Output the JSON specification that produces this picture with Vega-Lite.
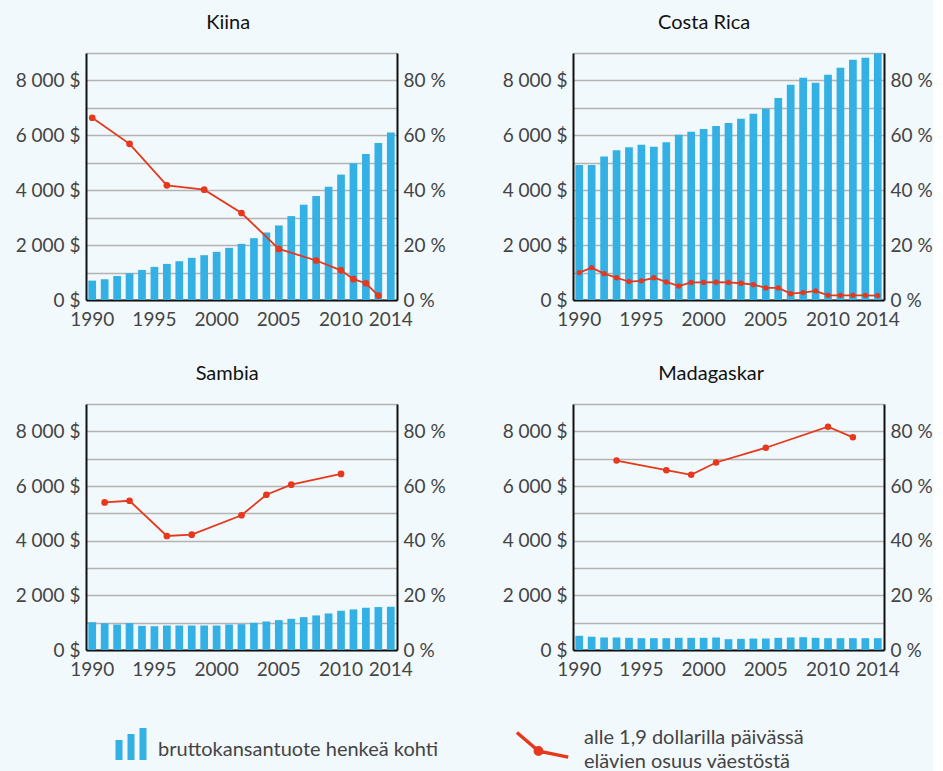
{
  "$schema": "https://vega.github.io/schema/vega-lite/v6.json",
  "background": "#f2f9fc",
  "padding": {"left": 15, "top": 13, "right": 0, "bottom": 0},
  "datasets": {
    "gdp": [
      {"country": "Kiina", "year": 1990, "gdp": 706}, {"country": "Kiina", "year": 1991, "gdp": 755}, {"country": "Kiina", "year": 1992, "gdp": 877}, {"country": "Kiina", "year": 1993, "gdp": 974}, {"country": "Kiina", "year": 1994, "gdp": 1096}, {"country": "Kiina", "year": 1995, "gdp": 1206}, {"country": "Kiina", "year": 1996, "gdp": 1315}, {"country": "Kiina", "year": 1997, "gdp": 1413}, {"country": "Kiina", "year": 1998, "gdp": 1535}, {"country": "Kiina", "year": 1999, "gdp": 1632}, {"country": "Kiina", "year": 2000, "gdp": 1754}, {"country": "Kiina", "year": 2001, "gdp": 1900}, {"country": "Kiina", "year": 2002, "gdp": 2046}, {"country": "Kiina", "year": 2003, "gdp": 2253}, {"country": "Kiina", "year": 2004, "gdp": 2460}, {"country": "Kiina", "year": 2005, "gdp": 2716}, {"country": "Kiina", "year": 2006, "gdp": 3057}, {"country": "Kiina", "year": 2007, "gdp": 3471}, {"country": "Kiina", "year": 2008, "gdp": 3788}, {"country": "Kiina", "year": 2009, "gdp": 4129}, {"country": "Kiina", "year": 2010, "gdp": 4568}, {"country": "Kiina", "year": 2011, "gdp": 4982}, {"country": "Kiina", "year": 2012, "gdp": 5323}, {"country": "Kiina", "year": 2013, "gdp": 5725}, {"country": "Kiina", "year": 2014, "gdp": 6102},
      {"country": "Costa Rica", "year": 1990, "gdp": 4921}, {"country": "Costa Rica", "year": 1991, "gdp": 4921}, {"country": "Costa Rica", "year": 1992, "gdp": 5226}, {"country": "Costa Rica", "year": 1993, "gdp": 5458}, {"country": "Costa Rica", "year": 1994, "gdp": 5568}, {"country": "Costa Rica", "year": 1995, "gdp": 5653}, {"country": "Costa Rica", "year": 1996, "gdp": 5580}, {"country": "Costa Rica", "year": 1997, "gdp": 5751}, {"country": "Costa Rica", "year": 1998, "gdp": 6020}, {"country": "Costa Rica", "year": 1999, "gdp": 6130}, {"country": "Costa Rica", "year": 2000, "gdp": 6227}, {"country": "Costa Rica", "year": 2001, "gdp": 6337}, {"country": "Costa Rica", "year": 2002, "gdp": 6447}, {"country": "Costa Rica", "year": 2003, "gdp": 6606}, {"country": "Costa Rica", "year": 2004, "gdp": 6789}, {"country": "Costa Rica", "year": 2005, "gdp": 6972}, {"country": "Costa Rica", "year": 2006, "gdp": 7363}, {"country": "Costa Rica", "year": 2007, "gdp": 7839}, {"country": "Costa Rica", "year": 2008, "gdp": 8095}, {"country": "Costa Rica", "year": 2009, "gdp": 7912}, {"country": "Costa Rica", "year": 2010, "gdp": 8205}, {"country": "Costa Rica", "year": 2011, "gdp": 8461}, {"country": "Costa Rica", "year": 2012, "gdp": 8754}, {"country": "Costa Rica", "year": 2013, "gdp": 8828}, {"country": "Costa Rica", "year": 2014, "gdp": 8990},
      {"country": "Sambia", "year": 1990, "gdp": 1018}, {"country": "Sambia", "year": 1991, "gdp": 982}, {"country": "Sambia", "year": 1992, "gdp": 933}, {"country": "Sambia", "year": 1993, "gdp": 982}, {"country": "Sambia", "year": 1994, "gdp": 883}, {"country": "Sambia", "year": 1995, "gdp": 871}, {"country": "Sambia", "year": 1996, "gdp": 896}, {"country": "Sambia", "year": 1997, "gdp": 896}, {"country": "Sambia", "year": 1998, "gdp": 896}, {"country": "Sambia", "year": 1999, "gdp": 896}, {"country": "Sambia", "year": 2000, "gdp": 896}, {"country": "Sambia", "year": 2001, "gdp": 933}, {"country": "Sambia", "year": 2002, "gdp": 945}, {"country": "Sambia", "year": 2003, "gdp": 994}, {"country": "Sambia", "year": 2004, "gdp": 1043}, {"country": "Sambia", "year": 2005, "gdp": 1092}, {"country": "Sambia", "year": 2006, "gdp": 1141}, {"country": "Sambia", "year": 2007, "gdp": 1202}, {"country": "Sambia", "year": 2008, "gdp": 1264}, {"country": "Sambia", "year": 2009, "gdp": 1337}, {"country": "Sambia", "year": 2010, "gdp": 1436}, {"country": "Sambia", "year": 2011, "gdp": 1485}, {"country": "Sambia", "year": 2012, "gdp": 1546}, {"country": "Sambia", "year": 2013, "gdp": 1571}, {"country": "Sambia", "year": 2014, "gdp": 1583},
      {"country": "Madagaskar", "year": 1990, "gdp": 519}, {"country": "Madagaskar", "year": 1991, "gdp": 482}, {"country": "Madagaskar", "year": 1992, "gdp": 457}, {"country": "Madagaskar", "year": 1993, "gdp": 457}, {"country": "Madagaskar", "year": 1994, "gdp": 445}, {"country": "Madagaskar", "year": 1995, "gdp": 432}, {"country": "Madagaskar", "year": 1996, "gdp": 432}, {"country": "Madagaskar", "year": 1997, "gdp": 432}, {"country": "Madagaskar", "year": 1998, "gdp": 445}, {"country": "Madagaskar", "year": 1999, "gdp": 445}, {"country": "Madagaskar", "year": 2000, "gdp": 445}, {"country": "Madagaskar", "year": 2001, "gdp": 457}, {"country": "Madagaskar", "year": 2002, "gdp": 395}, {"country": "Madagaskar", "year": 2003, "gdp": 408}, {"country": "Madagaskar", "year": 2004, "gdp": 420}, {"country": "Madagaskar", "year": 2005, "gdp": 420}, {"country": "Madagaskar", "year": 2006, "gdp": 445}, {"country": "Madagaskar", "year": 2007, "gdp": 457}, {"country": "Madagaskar", "year": 2008, "gdp": 469}, {"country": "Madagaskar", "year": 2009, "gdp": 445}, {"country": "Madagaskar", "year": 2010, "gdp": 432}, {"country": "Madagaskar", "year": 2011, "gdp": 432}, {"country": "Madagaskar", "year": 2012, "gdp": 432}, {"country": "Madagaskar", "year": 2013, "gdp": 432}, {"country": "Madagaskar", "year": 2014, "gdp": 432}
    ],
    "pov": [
      {"country": "Kiina", "year": 1990, "pov": 66.4}, {"country": "Kiina", "year": 1993, "pov": 56.9}, {"country": "Kiina", "year": 1996, "pov": 41.8}, {"country": "Kiina", "year": 1999, "pov": 40.2}, {"country": "Kiina", "year": 2002, "pov": 31.7}, {"country": "Kiina", "year": 2005, "pov": 18.6}, {"country": "Kiina", "year": 2008, "pov": 14.4}, {"country": "Kiina", "year": 2010, "pov": 10.8}, {"country": "Kiina", "year": 2011, "pov": 7.6}, {"country": "Kiina", "year": 2012, "pov": 6.1}, {"country": "Kiina", "year": 2013, "pov": 1.6},
      {"country": "Costa Rica", "year": 1990, "pov": 10.0}, {"country": "Costa Rica", "year": 1991, "pov": 11.8}, {"country": "Costa Rica", "year": 1992, "pov": 9.6}, {"country": "Costa Rica", "year": 1993, "pov": 8.1}, {"country": "Costa Rica", "year": 1994, "pov": 6.7}, {"country": "Costa Rica", "year": 1995, "pov": 7.0}, {"country": "Costa Rica", "year": 1996, "pov": 8.1}, {"country": "Costa Rica", "year": 1997, "pov": 6.6}, {"country": "Costa Rica", "year": 1998, "pov": 5.1}, {"country": "Costa Rica", "year": 1999, "pov": 6.4}, {"country": "Costa Rica", "year": 2000, "pov": 6.4}, {"country": "Costa Rica", "year": 2001, "pov": 6.5}, {"country": "Costa Rica", "year": 2002, "pov": 6.4}, {"country": "Costa Rica", "year": 2003, "pov": 6.1}, {"country": "Costa Rica", "year": 2004, "pov": 5.6}, {"country": "Costa Rica", "year": 2005, "pov": 4.4}, {"country": "Costa Rica", "year": 2006, "pov": 4.4}, {"country": "Costa Rica", "year": 2007, "pov": 2.3}, {"country": "Costa Rica", "year": 2008, "pov": 2.7}, {"country": "Costa Rica", "year": 2009, "pov": 3.3}, {"country": "Costa Rica", "year": 2010, "pov": 1.7}, {"country": "Costa Rica", "year": 2011, "pov": 1.7}, {"country": "Costa Rica", "year": 2012, "pov": 1.7}, {"country": "Costa Rica", "year": 2013, "pov": 1.7}, {"country": "Costa Rica", "year": 2014, "pov": 1.6},
      {"country": "Sambia", "year": 1991, "pov": 54.0}, {"country": "Sambia", "year": 1993, "pov": 54.6}, {"country": "Sambia", "year": 1996, "pov": 41.7}, {"country": "Sambia", "year": 1998, "pov": 42.2}, {"country": "Sambia", "year": 2002, "pov": 49.3}, {"country": "Sambia", "year": 2004, "pov": 56.8}, {"country": "Sambia", "year": 2006, "pov": 60.5}, {"country": "Sambia", "year": 2010, "pov": 64.4},
      {"country": "Madagaskar", "year": 1993, "pov": 69.3}, {"country": "Madagaskar", "year": 1997, "pov": 65.8}, {"country": "Madagaskar", "year": 1999, "pov": 64.1}, {"country": "Madagaskar", "year": 2001, "pov": 68.6}, {"country": "Madagaskar", "year": 2005, "pov": 74.0}, {"country": "Madagaskar", "year": 2010, "pov": 81.7}, {"country": "Madagaskar", "year": 2012, "pov": 77.8}
    ]
  },
  "columns": 2,
  "spacing": {"row": 35, "column": 56},
  "concat": [
    {
      "title": {"text": "Kiina", "dx": -2},
      "width": 311, "height": 247,
      "layer": [
        {"data": {"name": "gdp"}, "transform": [{"filter": "datum.country == 'Kiina'"}],
         "mark": {"type": "bar", "color": "#33b0e4"},
         "encoding": {
           "x": {"field": "year", "type": "ordinal", "title": null, "scale": {"domain": [1990,1991,1992,1993,1994,1995,1996,1997,1998,1999,2000,2001,2002,2003,2004,2005,2006,2007,2008,2009,2010,2011,2012,2013,2014], "paddingInner": 0.38, "paddingOuter": 0.19}, "axis": {"values": [1990,1995,2000,2005,2010,2014], "labelAngle": 0}},
           "y": {"field": "gdp", "type": "quantitative", "title": null, "scale": {"domain": [0, 9000], "nice": false}, "axis": {"values": [0,1000,2000,3000,4000,5000,6000,7000,8000,9000], "grid": true, "labelExpr": "datum.value % 2000 == 0 && datum.value < 9000 ? replace(format(datum.value, ','), ',', ' ') + ' $' : ''"}},
           "color": {"datum": "bkt", "scale": {"domain": ["bkt"], "range": ["#33b0e4"]}, "legend": {"orient": "none", "legendX": 34, "legendY": 686, "title": null, "padding": 0, "labelExpr": "'bruttokansantuote henkeä kohti'", "labelOffset": 16, "labelLimit": 500, "labelFontSize": 20, "labelColor": "#444", "labelFont": "Lato", "encode": {"labels": {"update": {"fontSize": {"value": 20}}}, "symbols": {"update": {"shape": {"value": "M-1.55,1H-0.85V-1H-1.55Z M-0.35,1H0.35V-1.6H-0.35Z M0.85,1H1.55V-2.2H0.85Z"}, "fill": {"value": "#33b0e4"}, "stroke": {"value": "transparent"}, "size": {"value": 400}, "opacity": {"value": 1}}}}}}
         }},
        {"data": {"name": "pov"}, "transform": [{"filter": "datum.country == 'Kiina'"}],
         "mark": {"type": "line", "color": "#e5381c", "strokeWidth": 1.8},
         "encoding": {
           "x": {"field": "year", "type": "ordinal"},
           "y": {"field": "pov", "type": "quantitative", "title": null, "scale": {"domain": [0, 90], "nice": false}, "axis": {"orient": "right", "values": [0,20,40,60,80], "grid": false, "labelExpr": "datum.value + ' %'"}},
           "stroke": {"datum": "pov", "scale": {"domain": ["pov"], "range": ["#e5381c"]}, "legend": {"orient": "none", "legendX": 460, "legendY": 674, "title": null, "padding": 0, "labelExpr": "['alle 1,9 dollarilla päivässä', 'elävien osuus väestöstä']", "labelOffset": 16, "labelLimit": 500, "labelFontSize": 20, "labelColor": "#444", "labelFont": "Lato", "encode": {"labels": {"update": {"lineHeight": {"value": 24}, "fontSize": {"value": 20}}}, "symbols": {"update": {"shape": {"value": "M-4.015,-0.424L-1.915,1.376L-1.785,1.224L-3.885,-0.576Z M-1.87,1.398L1.03,1.998L1.07,1.802L-1.83,1.202Z M-2.27,1.3A0.42,0.42 0 1,0 -1.43,1.3A0.42,0.42 0 1,0 -2.27,1.3Z"}, "fill": {"value": "#e5381c"}, "stroke": {"value": "transparent"}, "size": {"value": 400}, "opacity": {"value": 1}}}}}}
         }},
        {"data": {"name": "pov"}, "transform": [{"filter": "datum.country == 'Kiina'"}],
         "mark": {"type": "point", "filled": true, "size": 45, "color": "#e5381c", "opacity": 1},
         "encoding": {
           "x": {"field": "year", "type": "ordinal"},
           "y": {"field": "pov", "type": "quantitative", "scale": {"domain": [0, 90], "nice": false}, "axis": null}
         }}
      ],
      "resolve": {"scale": {"y": "independent"}}
    },
    {
      "title": {"text": "Costa Rica", "dx": -13},
      "width": 311, "height": 247,
      "layer": [
        {"data": {"name": "gdp"}, "transform": [{"filter": "datum.country == 'Costa Rica'"}],
         "mark": {"type": "bar", "color": "#33b0e4"},
         "encoding": {
           "x": {"field": "year", "type": "ordinal", "title": null, "scale": {"domain": [1990,1991,1992,1993,1994,1995,1996,1997,1998,1999,2000,2001,2002,2003,2004,2005,2006,2007,2008,2009,2010,2011,2012,2013,2014], "paddingInner": 0.38, "paddingOuter": 0.19}, "axis": {"values": [1990,1995,2000,2005,2010,2014], "labelAngle": 0}},
           "y": {"field": "gdp", "type": "quantitative", "title": null, "scale": {"domain": [0, 9000], "nice": false}, "axis": {"values": [0,1000,2000,3000,4000,5000,6000,7000,8000,9000], "grid": true, "labelExpr": "datum.value % 2000 == 0 && datum.value < 9000 ? replace(format(datum.value, ','), ',', ' ') + ' $' : ''"}}
         }},
        {"data": {"name": "pov"}, "transform": [{"filter": "datum.country == 'Costa Rica'"}],
         "mark": {"type": "line", "color": "#e5381c", "strokeWidth": 1.8},
         "encoding": {
           "x": {"field": "year", "type": "ordinal"},
           "y": {"field": "pov", "type": "quantitative", "title": null, "scale": {"domain": [0, 90], "nice": false}, "axis": {"orient": "right", "values": [0,20,40,60,80], "grid": false, "labelExpr": "datum.value + ' %'"}}
         }},
        {"data": {"name": "pov"}, "transform": [{"filter": "datum.country == 'Costa Rica'"}],
         "mark": {"type": "point", "filled": true, "size": 28, "color": "#e5381c", "opacity": 1},
         "encoding": {
           "x": {"field": "year", "type": "ordinal"},
           "y": {"field": "pov", "type": "quantitative", "scale": {"domain": [0, 90], "nice": false}, "axis": null}
         }}
      ],
      "resolve": {"scale": {"y": "independent"}}
    },
    {
      "title": {"text": "Sambia", "dx": -3},
      "width": 311, "height": 246,
      "layer": [
        {"data": {"name": "gdp"}, "transform": [{"filter": "datum.country == 'Sambia'"}],
         "mark": {"type": "bar", "color": "#33b0e4"},
         "encoding": {
           "x": {"field": "year", "type": "ordinal", "title": null, "scale": {"domain": [1990,1991,1992,1993,1994,1995,1996,1997,1998,1999,2000,2001,2002,2003,2004,2005,2006,2007,2008,2009,2010,2011,2012,2013,2014], "paddingInner": 0.38, "paddingOuter": 0.19}, "axis": {"values": [1990,1995,2000,2005,2010,2014], "labelAngle": 0}},
           "y": {"field": "gdp", "type": "quantitative", "title": null, "scale": {"domain": [0, 9000], "nice": false}, "axis": {"values": [0,1000,2000,3000,4000,5000,6000,7000,8000,9000], "grid": true, "labelExpr": "datum.value % 2000 == 0 && datum.value < 9000 ? replace(format(datum.value, ','), ',', ' ') + ' $' : ''"}}
         }},
        {"data": {"name": "pov"}, "transform": [{"filter": "datum.country == 'Sambia'"}],
         "mark": {"type": "line", "color": "#e5381c", "strokeWidth": 1.8},
         "encoding": {
           "x": {"field": "year", "type": "ordinal"},
           "y": {"field": "pov", "type": "quantitative", "title": null, "scale": {"domain": [0, 90], "nice": false}, "axis": {"orient": "right", "values": [0,20,40,60,80], "grid": false, "labelExpr": "datum.value + ' %'"}}
         }},
        {"data": {"name": "pov"}, "transform": [{"filter": "datum.country == 'Sambia'"}],
         "mark": {"type": "point", "filled": true, "size": 45, "color": "#e5381c", "opacity": 1},
         "encoding": {
           "x": {"field": "year", "type": "ordinal"},
           "y": {"field": "pov", "type": "quantitative", "scale": {"domain": [0, 90], "nice": false}, "axis": null}
         }}
      ],
      "resolve": {"scale": {"y": "independent"}}
    },
    {
      "title": {"text": "Madagaskar", "dx": -6},
      "width": 311, "height": 246,
      "layer": [
        {"data": {"name": "gdp"}, "transform": [{"filter": "datum.country == 'Madagaskar'"}],
         "mark": {"type": "bar", "color": "#33b0e4"},
         "encoding": {
           "x": {"field": "year", "type": "ordinal", "title": null, "scale": {"domain": [1990,1991,1992,1993,1994,1995,1996,1997,1998,1999,2000,2001,2002,2003,2004,2005,2006,2007,2008,2009,2010,2011,2012,2013,2014], "paddingInner": 0.38, "paddingOuter": 0.19}, "axis": {"values": [1990,1995,2000,2005,2010,2014], "labelAngle": 0}},
           "y": {"field": "gdp", "type": "quantitative", "title": null, "scale": {"domain": [0, 9000], "nice": false}, "axis": {"values": [0,1000,2000,3000,4000,5000,6000,7000,8000,9000], "grid": true, "labelExpr": "datum.value % 2000 == 0 && datum.value < 9000 ? replace(format(datum.value, ','), ',', ' ') + ' $' : ''"}}
         }},
        {"data": {"name": "pov"}, "transform": [{"filter": "datum.country == 'Madagaskar'"}],
         "mark": {"type": "line", "color": "#e5381c", "strokeWidth": 1.8},
         "encoding": {
           "x": {"field": "year", "type": "ordinal"},
           "y": {"field": "pov", "type": "quantitative", "title": null, "scale": {"domain": [0, 90], "nice": false}, "axis": {"orient": "right", "values": [0,20,40,60,80], "grid": false, "labelExpr": "datum.value + ' %'"}}
         }},
        {"data": {"name": "pov"}, "transform": [{"filter": "datum.country == 'Madagaskar'"}],
         "mark": {"type": "point", "filled": true, "size": 42, "color": "#e5381c", "opacity": 1},
         "encoding": {
           "x": {"field": "year", "type": "ordinal"},
           "y": {"field": "pov", "type": "quantitative", "scale": {"domain": [0, 90], "nice": false}, "axis": null}
         }}
      ],
      "resolve": {"scale": {"y": "independent"}}
    }
  ],
  "config": {
    "font": "Lato",
    "view": {"stroke": null},
    "title": {"font": "Lato", "fontSize": 20, "fontWeight": "normal", "color": "#111111", "offset": 11, "anchor": "middle", "frame": "bounds"},
    "axis": {"labelFont": "Lato", "labelFontSize": 19, "labelColor": "#444444", "domainColor": "#111111", "domainWidth": 2, "ticks": false, "gridColor": "#b3b3b3", "gridWidth": 1.5, "labelOverlap": false},
    "axisX": {"labelPadding": 10, "grid": false},
    "axisY": {"labelPadding": 6},
    "legend": {"padding": 0, "labelLimit": 500}
  }
}
